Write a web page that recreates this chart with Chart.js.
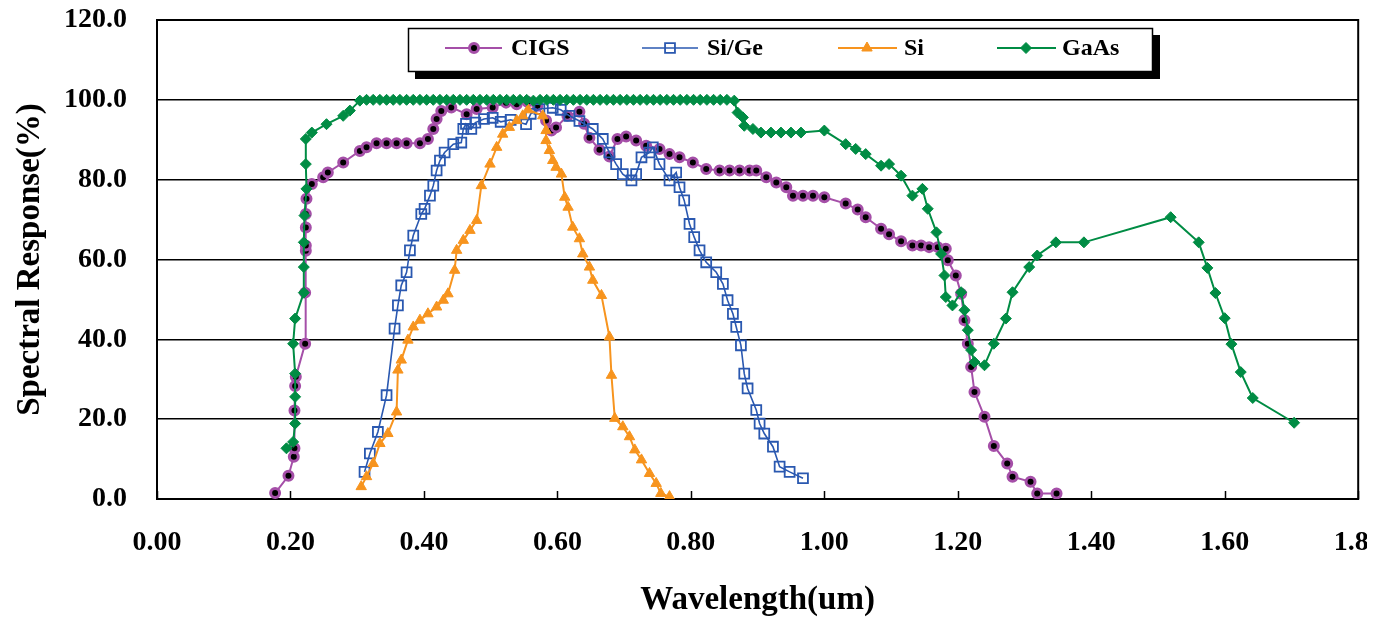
<!DOCTYPE html>
<html>
<head>
<meta charset="utf-8">
<script src="https://cdn.jsdelivr.net/npm/chart.js@4.4.1/dist/chart.umd.min.js"></script>
<style>
  html, body { margin: 0; padding: 0; background: #fff; overflow: hidden; }
  canvas { display: block; }
</style>
</head>
<body>
<canvas id="chart" width="1367" height="617"></canvas>
<script>
// wavelength (um), spectral response (%)
const cigsData = [
  [0.177, 1.5], [0.197, 5.8], [0.205, 10.6], [0.206, 12.7], [0.206, 22.2], [0.207, 28.3],
  [0.208, 30.6], [0.222, 38.9], [0.222, 51.7], [0.223, 62.2], [0.223, 63.5], [0.223, 68.0],
  [0.223, 71.4], [0.224, 75.2], [0.232, 78.9], [0.249, 80.6], [0.256, 81.8], [0.279, 84.3],
  [0.304, 87.2], [0.314, 88.1], [0.329, 89.1], [0.344, 89.1], [0.359, 89.1], [0.374, 89.1],
  [0.394, 89.1], [0.406, 90.2], [0.414, 92.7], [0.419, 95.2], [0.426, 97.2], [0.441, 98.1],
  [0.464, 96.4], [0.479, 97.7], [0.503, 98.1], [0.523, 99.3], [0.539, 98.9], [0.555, 99.5],
  [0.570, 98.5], [0.583, 94.8], [0.591, 92.3], [0.598, 93.1], [0.615, 96.0], [0.633, 97.0],
  [0.640, 94.0], [0.648, 90.5], [0.663, 87.5], [0.678, 85.8], [0.690, 90.2], [0.703, 90.8],
  [0.718, 89.8], [0.733, 88.5], [0.753, 87.7], [0.768, 86.4], [0.783, 85.6], [0.803, 84.3],
  [0.823, 82.7], [0.843, 82.3], [0.858, 82.3], [0.873, 82.3], [0.888, 82.3], [0.898, 82.3],
  [0.913, 80.6], [0.928, 79.3], [0.943, 78.1], [0.953, 76.0], [0.968, 76.0], [0.983, 76.0],
  [1.000, 75.6], [1.032, 74.0], [1.050, 72.5], [1.062, 70.6], [1.085, 67.7], [1.097, 66.3],
  [1.115, 64.6], [1.132, 63.5], [1.145, 63.5], [1.157, 63.1], [1.170, 63.1], [1.182, 62.7],
  [1.185, 59.8], [1.197, 56.0], [1.205, 51.4], [1.210, 44.8], [1.215, 38.9], [1.220, 33.1],
  [1.225, 26.8], [1.240, 20.6], [1.254, 13.3], [1.274, 8.9], [1.282, 5.6], [1.309, 4.3],
  [1.319, 1.4], [1.348, 1.4],
];

const siGeData = [
  [0.311, 6.8], [0.319, 11.4], [0.331, 16.8], [0.344, 26.0], [0.356, 42.7], [0.361, 48.5],
  [0.366, 53.5], [0.374, 56.8], [0.379, 62.3], [0.384, 66.0], [0.396, 71.4], [0.401, 72.7],
  [0.409, 76.0], [0.414, 78.5], [0.419, 82.3], [0.424, 84.8], [0.431, 86.8], [0.444, 88.9],
  [0.456, 89.3], [0.459, 92.7], [0.463, 94.0], [0.471, 92.7], [0.477, 94.3], [0.490, 95.2],
  [0.503, 95.5], [0.515, 94.5], [0.530, 95.0], [0.553, 93.9], [0.560, 96.5], [0.573, 97.7],
  [0.593, 98.0], [0.605, 97.5], [0.618, 96.0], [0.633, 94.7], [0.653, 92.7], [0.668, 90.2],
  [0.678, 86.8], [0.688, 83.9], [0.698, 81.4], [0.711, 79.8], [0.718, 81.4], [0.726, 85.6],
  [0.738, 86.8], [0.743, 88.1], [0.753, 83.9], [0.768, 79.8], [0.778, 81.8], [0.783, 78.1],
  [0.790, 74.8], [0.798, 68.9], [0.805, 65.6], [0.813, 62.3], [0.823, 59.3], [0.838, 56.8],
  [0.848, 53.9], [0.855, 49.8], [0.863, 46.4], [0.868, 43.1], [0.875, 38.5], [0.880, 31.4],
  [0.885, 27.7], [0.898, 22.3], [0.903, 18.9], [0.910, 16.4], [0.923, 13.1], [0.933, 8.1],
  [0.948, 6.8], [0.968, 5.2],
];

const siData = [
  [0.306, 3.1], [0.314, 5.6], [0.324, 8.9], [0.334, 13.9], [0.346, 16.4], [0.359, 21.8],
  [0.361, 32.3], [0.366, 34.8], [0.376, 39.8], [0.384, 43.1], [0.394, 44.8], [0.406, 46.4],
  [0.419, 48.1], [0.429, 49.8], [0.436, 51.4], [0.446, 57.3], [0.449, 62.3], [0.459, 64.8],
  [0.469, 67.3], [0.479, 69.8], [0.486, 78.5], [0.499, 83.9], [0.509, 88.1], [0.518, 91.4],
  [0.528, 93.1], [0.539, 94.8], [0.548, 96.0], [0.556, 97.5], [0.578, 96.0], [0.583, 92.3],
  [0.583, 89.8], [0.588, 87.3], [0.593, 84.8], [0.598, 83.1], [0.606, 81.4], [0.611, 75.6],
  [0.616, 73.1], [0.623, 68.1], [0.633, 65.2], [0.638, 61.4], [0.648, 58.1], [0.653, 54.8],
  [0.666, 51.0], [0.678, 40.6], [0.681, 31.0], [0.686, 20.2], [0.698, 18.1], [0.708, 15.6],
  [0.716, 12.3], [0.726, 9.8], [0.738, 6.4], [0.748, 3.9], [0.755, 1.4], [0.768, 0.6],
];

const gaAsData = [
  [0.194, 12.7], [0.204, 14.3], [0.207, 18.9], [0.207, 25.6], [0.207, 31.4], [0.204, 38.9],
  [0.207, 45.2], [0.220, 51.7], [0.220, 58.1], [0.220, 64.3], [0.221, 71.0], [0.224, 77.7],
  [0.223, 83.9], [0.223, 90.2], [0.232, 91.8], [0.254, 93.9], [0.279, 96.0], [0.289, 97.3],
  [0.304, 99.8], [0.314, 100], [0.324, 100], [0.334, 100], [0.344, 100], [0.354, 100],
  [0.364, 100], [0.374, 100], [0.384, 100], [0.394, 100], [0.404, 100], [0.414, 100],
  [0.424, 100], [0.434, 100], [0.444, 100], [0.454, 100], [0.464, 100], [0.474, 100],
  [0.484, 100], [0.494, 100], [0.504, 100], [0.514, 100], [0.524, 100], [0.534, 100],
  [0.544, 100], [0.554, 100], [0.564, 99.8], [0.574, 100], [0.584, 100], [0.594, 100],
  [0.604, 100], [0.614, 100], [0.624, 100], [0.634, 100], [0.644, 100], [0.654, 100],
  [0.664, 100], [0.674, 100], [0.684, 100], [0.694, 100], [0.704, 100], [0.714, 100],
  [0.724, 100], [0.734, 100], [0.744, 100], [0.754, 100], [0.764, 100], [0.774, 100],
  [0.784, 100], [0.794, 100], [0.804, 100], [0.814, 100], [0.824, 100], [0.834, 100],
  [0.844, 100], [0.854, 100], [0.865, 99.8], [0.870, 96.8], [0.878, 95.6], [0.880, 93.5],
  [0.893, 92.7], [0.905, 91.8], [0.920, 91.8], [0.935, 91.8], [0.950, 91.8], [0.965, 91.8],
  [1.000, 92.3], [1.032, 88.9], [1.047, 87.7], [1.062, 86.4], [1.085, 83.5], [1.097, 83.9],
  [1.115, 81.0], [1.132, 76.0], [1.147, 77.7], [1.155, 72.7], [1.168, 66.8], [1.175, 61.4],
  [1.180, 56.0], [1.182, 50.6], [1.192, 48.5], [1.205, 51.8], [1.210, 47.3], [1.215, 42.3],
  [1.220, 37.3], [1.225, 34.3], [1.240, 33.5], [1.254, 38.9], [1.272, 45.2], [1.282, 51.8],
  [1.307, 58.1], [1.319, 61.0], [1.347, 64.3], [1.389, 64.3], [1.519, 70.6], [1.561, 64.3],
  [1.574, 57.9], [1.586, 51.6], [1.600, 45.3], [1.610, 38.8], [1.624, 31.8], [1.642, 25.3],
  [1.704, 19.1],
];

const seriesNames = ['CIGS', 'Si/Ge', 'Si', 'GaAs'];
const xTickValues = [0, 0.2, 0.4, 0.6, 0.8, 1.0, 1.2, 1.4, 1.6, 1.8];
const yTickValues = [0, 20, 40, 60, 80, 100, 120];

const serif = "'Liberation Serif', 'Times New Roman', serif";
const toPoints = arr => arr.map(p => ({ x: p[0], y: p[1] }));

const datasets = [
  {
    label: seriesNames[0],
    data: toPoints(cigsData),
    borderColor: '#A54FA8',
    borderWidth: 2,
    pointStyle: 'circle',
    pointRadius: 4.5,
    pointBorderWidth: 3,
    pointBorderColor: '#A54FA8',
    pointBackgroundColor: '#000',
    order: 4,
  },
  {
    label: seriesNames[1],
    data: toPoints(siGeData),
    borderColor: '#2A58B0',
    borderWidth: 1.6,
    pointStyle: 'rect',
    pointRadius: 7,
    pointBorderWidth: 1.8,
    pointBorderColor: '#2A58B0',
    pointBackgroundColor: 'rgba(0,0,0,0)',
    order: 3,
  },
  {
    label: seriesNames[2],
    data: toPoints(siData),
    borderColor: '#F7941E',
    borderWidth: 2,
    pointStyle: 'triangle',
    pointRadius: 6,
    pointBorderWidth: 1,
    pointBorderColor: '#F7941E',
    pointBackgroundColor: '#F7941E',
    order: 2,
  },
  {
    label: seriesNames[3],
    data: toPoints(gaAsData),
    borderColor: '#008C44',
    borderWidth: 2,
    pointStyle: 'rectRot',
    pointRadius: 5.5,
    pointBorderWidth: 1,
    pointBorderColor: '#008C44',
    pointBackgroundColor: '#008C44',
    order: 1,
  },
];

// plot frame + inside tick marks on the x axis
const framePlugin = {
  id: 'frame',
  beforeDatasetsDraw(chart) {
    const { ctx, chartArea } = chart;
    const xs = chart.scales.x;
    ctx.save();
    ctx.strokeStyle = '#000';
    ctx.lineWidth = 1.5;
    xs.ticks.forEach(t => {
      const px = Math.round(xs.getPixelForValue(t.value)) + 0.5;
      ctx.beginPath();
      ctx.moveTo(px, chartArea.bottom);
      ctx.lineTo(px, chartArea.bottom - 8);
      ctx.stroke();
    });
    ctx.lineWidth = 2;
    ctx.strokeRect(chartArea.left, chartArea.top, chartArea.right - chartArea.left, chartArea.bottom - chartArea.top);
    ctx.restore();
  },
};

// boxed legend with drop shadow, line + marker samples
const legendPlugin = {
  id: 'boxLegend',
  afterDraw(chart) {
    const ctx = chart.ctx;
    const slots = [
      { x1: 445, x2: 502, mx: 474, tx: 511 },
      { x1: 642, x2: 698, mx: 670, tx: 707 },
      { x1: 838, x2: 897, mx: 867, tx: 904 },
      { x1: 997, x2: 1056, mx: 1026, tx: 1062 },
    ];
    const cy = 48;
    ctx.save();
    ctx.fillStyle = '#000';
    ctx.fillRect(415, 35, 745, 44);
    ctx.fillStyle = '#fff';
    ctx.fillRect(408, 28, 745, 44);
    ctx.strokeStyle = '#000';
    ctx.lineWidth = 1.5;
    ctx.strokeRect(408.5, 28.5, 744, 43);
    chart.data.datasets.forEach((ds, i) => {
      const s = slots[i];
      ctx.strokeStyle = ds.borderColor;
      ctx.lineWidth = ds.borderWidth;
      ctx.beginPath();
      ctx.moveTo(s.x1, cy);
      ctx.lineTo(s.x2, cy);
      ctx.stroke();
      ctx.fillStyle = ds.pointBackgroundColor;
      ctx.strokeStyle = ds.pointBorderColor;
      ctx.lineWidth = ds.pointBorderWidth;
      Chart.helpers.drawPoint(ctx, {
        pointStyle: ds.pointStyle,
        radius: ds.pointRadius,
        rotation: 0,
        borderWidth: ds.pointBorderWidth,
      }, s.mx, cy);
      ctx.fillStyle = '#000';
      ctx.font = `bold 24px ${serif}`;
      ctx.textAlign = 'left';
      ctx.textBaseline = 'middle';
      ctx.fillText(ds.label, s.tx, cy + 1);
    });
    ctx.restore();
  },
};

new Chart(document.getElementById('chart'), {
  type: 'scatter',
  data: { datasets },
  options: {
    responsive: false,
    animation: false,
    devicePixelRatio: 1,
    events: [],
    showLine: true,
    layout: { padding: { top: 20, right: 8, left: 0, bottom: 0 } },
    elements: { line: { tension: 0 } },
    plugins: {
      legend: { display: false },
      tooltip: { enabled: false },
    },
    scales: {
      x: {
        type: 'linear',
        min: 0,
        max: 1.8,
        afterBuildTicks: scale => { scale.ticks = xTickValues.map(v => ({ value: v })); },
        afterFit: scale => {
          scale.height = 118;
          scale.paddingLeft = 0;
          scale.paddingRight = 0;
        },
        grid: { display: false, drawTicks: false },
        border: { display: true, color: '#000', width: 2 },
        ticks: {
          padding: 27,
          color: '#000',
          maxRotation: 0,
          autoSkip: false,
          font: { family: serif, size: 28, weight: 'bold' },
          callback: v => v.toFixed(2),
        },
        title: {
          display: true,
          text: 'Wavelength(um)',
          color: '#000',
          font: { family: serif, size: 33, weight: 'bold' },
          padding: { top: 0, bottom: -3 },
        },
      },
      y: {
        min: 0,
        max: 120,
        afterBuildTicks: scale => { scale.ticks = yTickValues.map(v => ({ value: v })); },
        afterFit: scale => {
          scale.width = 157;
          scale.paddingTop = 0;
          scale.paddingBottom = 0;
        },
        grid: { color: '#000', lineWidth: 1.4, drawTicks: false },
        border: { display: true, color: '#000', width: 2 },
        ticks: {
          padding: 30,
          color: '#000',
          font: { family: serif, size: 28, weight: 'bold' },
          callback: v => v.toFixed(1),
        },
        title: {
          display: true,
          text: 'Spectral Response(%)',
          color: '#000',
          font: { family: serif, size: 33, weight: 'bold' },
          padding: { top: 11, bottom: 0 },
        },
      },
    },
  },
  plugins: [framePlugin, legendPlugin],
});
</script>
</body>
</html>
